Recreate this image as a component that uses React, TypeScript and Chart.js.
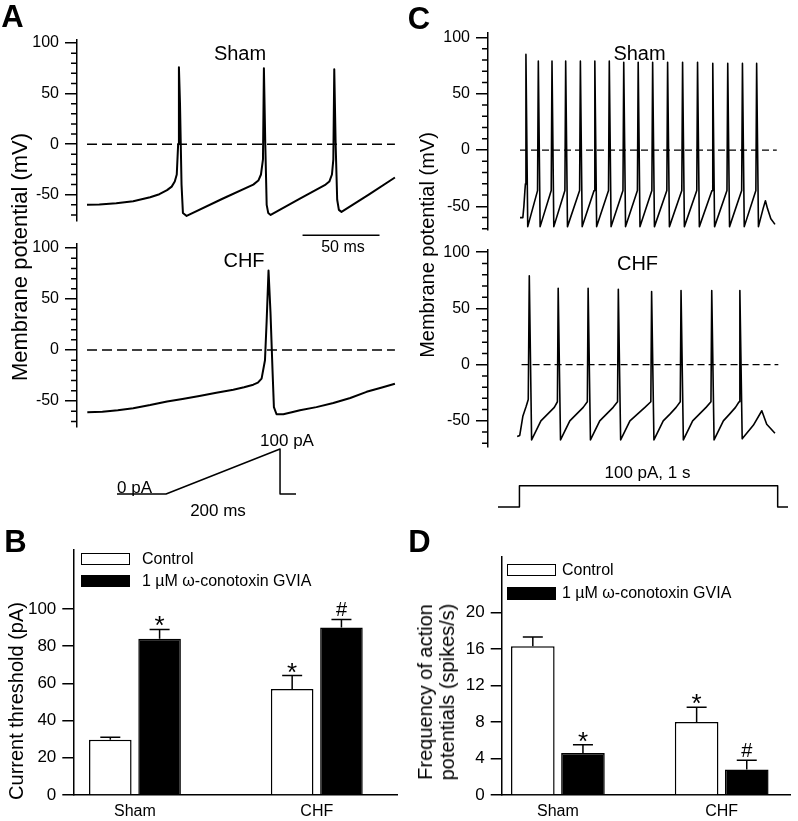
import React, { useEffect, useRef } from 'react';
import { Chart, registerables } from 'chart.js';

Chart.register(...registerables);

const FONT = '"Liberation Sans", Arial, Helvetica, sans-serif';
Chart.defaults.font.family = FONT;
Chart.defaults.color = '#000';

// ---------- Panel A: ramp-evoked action potentials (time in ms, potential in mV) ----------
const shamRampT = [0, 8, 19, 30, 41, 47, 52, 55, 57, 58.3, 59.2, 59.7, 60.4, 61.4, 62.3, 64.7, 88, 108, 111.3, 113, 114.3, 114.9, 115.8, 116.7, 117.7, 119.3, 138, 155, 157.4, 159.1, 160, 160.6, 161.5, 162.5, 163.6, 165.3, 183, 200];
const shamRampV = [-60, -59.7, -58.5, -56.5, -52.5, -49.5, -45.5, -42, -37, -30, 0, 76, 40, -40, -68, -71, -54, -40, -36, -30, -15, 75, 0, -60, -68, -70, -54, -40, -37, -30, -15, 74, 0, -55, -65, -67, -50, -33];
const chfRampT = [0.2, 10, 20, 30, 41, 52, 62, 73, 84, 95, 102, 108, 111, 113.4, 115.6, 116.7, 117.9, 119.2, 120.5, 121.4, 123.1, 127.5, 133, 138.3, 149, 160, 171, 181.6, 191, 200];
const chfRampV = [-61, -60.5, -59, -57, -54, -50.5, -48, -45, -42, -39, -36.5, -34, -32, -28, -10, 29, 78, 36, -20, -56, -63, -63, -61, -59, -56, -52, -47, -41, -37, -33];
const rampZeroT = [0, 200];
const rampZeroV = [0, 0];
const scaleBarT = [140, 190];
const scaleBarV = [-90, -90];
const rampStimT = [-86, 0, 200, 200, 228];
const rampStimI = [0, 0, 100, 0, 0];

// ---------- Panel C: step-evoked firing (time in ms, potential in mV) ----------
const shamStepT = [3, 14, 18, 22, 24, 26, 33,
  71, 74, 81, 124, 127, 134, 177, 180, 187, 234, 237, 244, 290, 293, 300,
  346, 349, 356, 402, 405, 412, 458, 461, 468, 514, 517, 524, 572, 575, 582,
  630, 633, 640, 688, 691, 698, 747, 750, 757, 805, 808, 815, 862, 865, 872,
  917, 920, 927, 945, 954, 962, 975, 991];
const shamStepV = [-60, -60, -50, -36, -30, 85, -68,
  -36, 79, -68, -36, 79, -68, -36, 79, -68, -36, 79, -68, -36, 79, -68,
  -36, 79, -68, -36, 78, -68, -36, 78, -68, -36, 78, -68, -36, 78, -68,
  -36, 78, -68, -36, 78, -68, -36, 77, -68, -36, 77, -68, -36, 77, -68,
  -36, 77, -68, -52, -45, -52, -61, -66];
const chfStepT = [-8, 2, 14, 27, 35, 39, 48,
  84, 110, 136, 148, 151, 160,
  196, 222, 248, 264, 267, 276,
  312, 338, 364, 381, 384, 393,
  429, 458, 487, 510, 513, 522,
  558, 584, 608, 624, 627, 636,
  672, 698, 724, 743, 746, 755,
  791, 815, 838, 852, 855, 864,
  907, 940, 959, 991];
const chfStepV = [-64, -63, -46, -37, -31, 79, -67,
  -50, -44, -38, -33, 68, -67,
  -50, -44, -38, -33, 68, -67,
  -50, -44, -38, -33, 67, -67,
  -50, -44, -38, -33, 65, -67,
  -50, -44, -38, -33, 66, -67,
  -50, -44, -38, -33, 66, -67,
  -50, -44, -38, -33, 66, -66,
  -54, -41, -53, -61];
const stepZeroShamT = [3, 998];
const stepZeroChfT = [9, 1004];
const stepZeroV = [0, 0];
const stepStimT = [-83, 0, 0, 1000, 1000, 1040];
const stepStimI = [0, 0, 100, 100, 0, 0];

const traceTicks = [-50, 0, 50, 100];

// ---------- Panels B and D: bar charts ----------
const groups = ['Sham', 'CHF'];
const seriesNames = ['Control', '1 µM ω-conotoxin GVIA'];

const thresholdControl = [29.7, 57];
const thresholdControlErr = [1.3, 7.2];
const thresholdControlMarks = ['', '*'];
const thresholdToxin = [84, 90];
const thresholdToxinErr = [5, 4.4];
const thresholdToxinMarks = ['*', '#'];
const thresholdTicks = [0, 20, 40, 60, 80, 100];

const freqControl = [16.3, 8.0];
const freqControlErr = [1.0, 1.6];
const freqControlMarks = ['', '*'];
const freqToxin = [4.6, 2.8];
const freqToxinErr = [0.9, 1.0];
const freqToxinMarks = ['*', '#'];
const freqTicks = [0, 4, 8, 12, 16, 20];

type Box = { x: number; y: number; w: number; h: number };
type Area = { l: number; t: number; r: number; b: number };

const pts = (xs: number[], ys: number[]) => xs.map((x, i) => ({ x, y: ys[i] }));

const minorTicks = {
  id: 'minorTicks',
  afterDraw(chart: any, _args: any, opts: any) {
    if (!opts || !opts.step) return;
    const s = chart.scales.y;
    const ctx = chart.ctx;
    ctx.save();
    ctx.strokeStyle = '#000';
    ctx.lineWidth = 1.5;
    ctx.beginPath();
    const start = Math.ceil(s.min / opts.step) * opts.step;
    for (let v = start; v <= s.max + 1e-9; v += opts.step) {
      if (Math.abs(v / opts.major - Math.round(v / opts.major)) < 1e-6) continue;
      const y = s.getPixelForValue(v);
      ctx.moveTo(s.right - opts.len, y);
      ctx.lineTo(s.right, y);
    }
    ctx.stroke();
    ctx.restore();
  },
};

const errorBars = {
  id: 'errorBars',
  afterDatasetsDraw(chart: any, _args: any, opts: any) {
    const ctx = chart.ctx;
    const ys = chart.scales.y;
    ctx.save();
    ctx.strokeStyle = '#000';
    ctx.fillStyle = '#000';
    ctx.lineWidth = 1.5;
    chart.data.datasets.forEach((ds: any, di: number) => {
      const meta = chart.getDatasetMeta(di);
      meta.data.forEach((bar: any, i: number) => {
        const v = ds.data[i].y;
        const top = ys.getPixelForValue(v + ds.errors[i]);
        ctx.beginPath();
        ctx.moveTo(bar.x, bar.y);
        ctx.lineTo(bar.x, top);
        ctx.moveTo(bar.x - opts.cap / 2, top);
        ctx.lineTo(bar.x + opts.cap / 2, top);
        ctx.stroke();
        const m = ds.marks[i];
        if (m) {
          ctx.textAlign = 'center';
          ctx.textBaseline = 'alphabetic';
          if (m === '*') {
            ctx.font = `26px ${FONT}`;
            ctx.fillText(m, bar.x, top + 5);
          } else {
            ctx.font = `20px ${FONT}`;
            ctx.fillText(m, bar.x, top - 3);
          }
        }
      });
    });
    ctx.restore();
  },
};

const lineDs = (data: any[], width: number, dash?: number[]) => ({
  data,
  borderColor: '#000',
  borderWidth: width,
  pointRadius: 0,
  fill: false,
  clip: false as any,
  borderDash: dash || [],
  borderJoinStyle: 'round',
  tension: 0,
});

function lineConfig(box: Box, area: Area, xr: number[], yr: number[], datasets: any[], showY: boolean) {
  const yScale: any = showY
    ? {
        type: 'linear',
        min: yr[0],
        max: yr[1],
        afterBuildTicks(s: any) { s.ticks = traceTicks.map((value) => ({ value })); },
        afterFit(s: any) { s.width = area.l - box.x; s.paddingTop = 0; s.paddingBottom = 0; },
        ticks: { color: '#000', font: { size: 16, family: FONT }, padding: 6, autoSkip: false },
        grid: { display: true, drawOnChartArea: false, drawTicks: true, tickLength: 12, color: '#000', lineWidth: 1.5 },
        border: { display: true, color: '#000', width: 1.5 },
      }
    : { type: 'linear', min: yr[0], max: yr[1], display: false };
  return {
    type: 'line',
    data: { datasets },
    options: {
      animation: false,
      responsive: false,
      events: [],
      layout: {
        padding: {
          left: showY ? 0 : area.l - box.x,
          top: area.t - box.y,
          right: box.x + box.w - area.r,
          bottom: box.y + box.h - area.b,
        },
      },
      plugins: {
        legend: { display: false },
        tooltip: { enabled: false },
        minorTicks: showY ? { step: 10, major: 50, len: 6 } : {},
      },
      scales: {
        x: { type: 'linear', display: false, min: xr[0], max: xr[1] },
        y: yScale,
      },
    },
    plugins: [minorTicks],
  };
}

function barConfig(box: Box, area: Area, xr: number[], yMax: number, yTicks: number[],
  ctrl: number[], ctrlErr: number[], ctrlMarks: string[], tox: number[], toxErr: number[], toxMarks: string[],
  catPct: number, barPct: number) {
  return {
    type: 'bar',
    data: {
      datasets: [
        { label: seriesNames[0], data: pts(groups.map((_, i) => i), ctrl), errors: ctrlErr, marks: ctrlMarks,
          backgroundColor: '#fff', borderColor: '#000', borderWidth: 1.5, categoryPercentage: catPct, barPercentage: barPct },
        { label: seriesNames[1], data: pts(groups.map((_, i) => i), tox), errors: toxErr, marks: toxMarks,
          backgroundColor: '#000', borderColor: '#000', borderWidth: 1.5, categoryPercentage: catPct, barPercentage: barPct },
      ],
    },
    options: {
      animation: false,
      responsive: false,
      events: [],
      layout: { padding: { left: 0, top: area.t - box.y, right: box.x + box.w - area.r, bottom: 0 } },
      plugins: { legend: { display: false }, tooltip: { enabled: false }, errorBars: { cap: 20 } },
      scales: {
        x: {
          type: 'linear', min: xr[0], max: xr[1], offset: false,
          afterBuildTicks(s: any) { s.ticks = groups.map((_, i) => ({ value: i })); },
          afterFit(s: any) { s.height = box.y + box.h - area.b; s.paddingLeft = 0; s.paddingRight = 0; },
          ticks: { callback: (v: any) => groups[v] ?? '', color: '#000', font: { size: 16, family: FONT }, padding: 7, autoSkip: false, maxRotation: 0 },
          grid: { display: false, drawTicks: false, offset: false },
          border: { display: true, color: '#000', width: 1.5 },
        },
        y: {
          type: 'linear', min: 0, max: yMax,
          afterBuildTicks(s: any) { s.ticks = yTicks.map((value) => ({ value })); },
          afterFit(s: any) { s.width = area.l - box.x; s.paddingTop = 0; s.paddingBottom = 0; },
          ticks: { color: '#000', font: { size: 17, family: FONT }, padding: 6, autoSkip: false },
          grid: { display: true, drawOnChartArea: false, drawTicks: true, tickLength: 11, color: '#000', lineWidth: 1.5 },
          border: { display: true, color: '#000', width: 1.5 },
        },
      },
    },
    plugins: [errorBars],
  };
}

type Spec = { box: Box; make: () => any };

const specs: Spec[] = [
  {
    box: { x: 0, y: 20, w: 400, h: 222 },
    make() {
      return lineConfig(this.box, { l: 77, t: 40, r: 398, b: 221 }, [-6.5, 202], [-76, 103], [
        lineDs(pts(rampZeroT, rampZeroV), 1.5, [10, 5]),
        lineDs(pts(shamRampT, shamRampV), 2),
        lineDs(pts(scaleBarT, scaleBarV), 1.5),
      ], true);
    },
  },
  {
    box: { x: 0, y: 232, w: 400, h: 200 },
    make() {
      return lineConfig(this.box, { l: 77, t: 244, r: 398, b: 426.5 }, [-6.5, 202], [-75, 104], [
        lineDs(pts(rampZeroT, rampZeroV), 1.5, [10, 5]),
        lineDs(pts(chfRampT, chfRampV), 2),
      ], true);
    },
  },
  {
    box: { x: 100, y: 440, w: 210, h: 64 },
    make() {
      return lineConfig(this.box, { l: 117, t: 449, r: 296, b: 494 }, [-86, 228], [0, 100], [
        lineDs(pts(rampStimT, rampStimI), 1.5),
      ], false);
    },
  },
  {
    box: { x: 420, y: 20, w: 378, h: 222 },
    make() {
      return lineConfig(this.box, { l: 488, t: 33, r: 792, b: 230 }, [-121, 1057], [-71, 104], [
        lineDs(pts(stepZeroShamT, stepZeroV), 1.3, [7, 4]),
        lineDs(pts(shamStepT, shamStepV), 1.6),
      ], true);
    },
  },
  {
    box: { x: 420, y: 238, w: 378, h: 214 },
    make() {
      return lineConfig(this.box, { l: 488, t: 250, r: 792, b: 446.7 }, [-121, 1057], [-73, 102], [
        lineDs(pts(stepZeroChfT, stepZeroV), 1.3, [7, 4]),
        lineDs(pts(chfStepT, chfStepV), 1.6),
      ], true);
    },
  },
  {
    box: { x: 490, y: 478, w: 308, h: 36 },
    make() {
      return lineConfig(this.box, { l: 498, t: 485.7, r: 788, b: 507 }, [-83, 1040], [0, 100], [
        lineDs(pts(stepStimT, stepStimI), 1.5),
      ], false);
    },
  },
  {
    box: { x: 0, y: 538, w: 400, h: 283 },
    make() {
      return barConfig(this.box, { l: 73.3, t: 550, r: 397, b: 795 }, [-0.339, 1.441], 131.7, thresholdTicks,
        thresholdControl, thresholdControlErr, thresholdControlMarks, thresholdToxin, thresholdToxinErr, thresholdToxinMarks,
        0.542, 0.864);
    },
  },
  {
    box: { x: 420, y: 545, w: 378, h: 276 },
    make() {
      return barConfig(this.box, { l: 501.7, t: 556.7, r: 790, b: 795 }, [-0.343, 1.417], 26.1, freqTicks,
        freqControl, freqControlErr, freqControlMarks, freqToxin, freqToxinErr, freqToxinMarks,
        0.612, 0.87);
    },
  },
];

const Txt = ({ x, y, children, size, bold, rot, left, lh }: any) => (
  <div
    style={{
      position: 'absolute',
      left: x,
      top: y,
      transform: `translate(${left ? '0' : '-50%'}, -50%)${rot ? ' rotate(-90deg)' : ''}`,
      fontSize: size,
      fontWeight: bold ? 700 : 400,
      lineHeight: lh ? `${lh}px` : 1,
      whiteSpace: 'nowrap',
      textAlign: 'center',
    }}
  >
    {children}
  </div>
);

const LegendBox = ({ x, y, w, h, fill }: any) => (
  <div style={{ position: 'absolute', left: x, top: y, width: w, height: h, boxSizing: 'border-box', border: '1.5px solid #000', background: fill }} />
);

export default function App() {
  const refs = useRef<(HTMLCanvasElement | null)[]>([]);

  useEffect(() => {
    const charts: Chart[] = [];
    specs.forEach((sp, i) => {
      const c = refs.current[i];
      if (!c) return;
      charts.push(new Chart(c, sp.make.call(sp) as any));
    });
    return () => charts.forEach((ch) => ch.destroy());
  }, []);

  return (
    <div style={{ position: 'absolute', left: 0, top: 0, width: 798, height: 821, overflow: 'hidden', background: '#fff', fontFamily: FONT, color: '#000' }}>
      {specs.map((sp, i) => (
        <canvas
          key={i}
          ref={(el) => { refs.current[i] = el; }}
          width={sp.box.w}
          height={sp.box.h}
          style={{ position: 'absolute', left: sp.box.x, top: sp.box.y, width: sp.box.w, height: sp.box.h }}
        />
      ))}

      <Txt x={12.5} y={16} size={31} bold>A</Txt>
      <Txt x={15.5} y={541} size={31} bold>B</Txt>
      <Txt x={419} y={17.5} size={31} bold>C</Txt>
      <Txt x={419.5} y={541} size={31} bold>D</Txt>

      <Txt x={20} y={257} size={22} rot>Membrane potential (mV)</Txt>
      <Txt x={427} y={245} size={20} rot>Membrane potential (mV)</Txt>
      <Txt x={16} y={701} size={20} rot>Current threshold (pA)</Txt>
      <Txt x={436} y={692} size={20} rot lh={22}>Frequency of action<br />potentials (spikes/s)</Txt>

      <Txt x={240} y={53} size={20}>{groups[0]}</Txt>
      <Txt x={244} y={260} size={20}>{groups[1]}</Txt>
      <Txt x={639.5} y={53} size={20}>{groups[0]}</Txt>
      <Txt x={637.5} y={263} size={20}>{groups[1]}</Txt>

      <Txt x={343} y={247} size={16}>50 ms</Txt>
      <Txt x={287} y={440} size={17}>100 pA</Txt>
      <Txt x={134.5} y={487} size={17}>0 pA</Txt>
      <Txt x={218} y={510} size={17}>200 ms</Txt>
      <Txt x={647.5} y={472} size={17}>100 pA, 1 s</Txt>

      <LegendBox x={81} y={553} w={49} h={12} fill="#fff" />
      <LegendBox x={81} y={575} w={49} h={12} fill="#000" />
      <Txt x={142} y={559} size={16} left>{seriesNames[0]}</Txt>
      <Txt x={142} y={581} size={16} left>{seriesNames[1]}</Txt>

      <LegendBox x={507} y={564} w={49} h={12} fill="#fff" />
      <LegendBox x={507} y={587} w={49} h={13} fill="#000" />
      <Txt x={562} y={570} size={16} left>{seriesNames[0]}</Txt>
      <Txt x={562} y={593} size={16} left>{seriesNames[1]}</Txt>
    </div>
  );
}
